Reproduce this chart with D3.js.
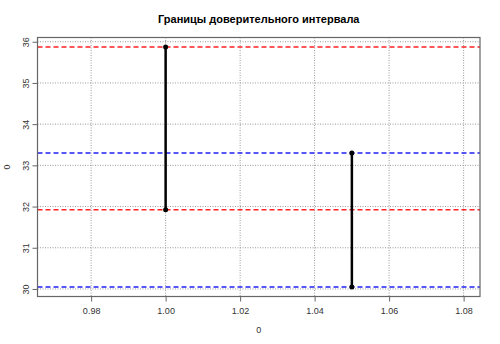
<!DOCTYPE html>
<html lang="ru">
<head>
  <meta charset="UTF-8">
  <title>Границы доверительного интервала</title>
  <style>
    body { margin: 0; background: #fff; }
    svg { font-family: "Liberation Sans", Arial, sans-serif; }
  </style>
</head>
<body>
  <div id="chart"></div>
  <script src="https://d3js.org/d3.v7.min.js"></script>
  <script>
    // data
    var groups = [1.00, 1.05]
    var lower = [31.92, 30.05]
    var upper = [35.87, 33.30]
    var lineColors = ['#ff2020', '#2020ee']
    var xTicks = [0.98, 1.00, 1.02, 1.04, 1.06, 1.08]
    var yTicks = [30, 31, 32, 33, 34, 35, 36]

    var width = 500, height = 344
    var padL = 37.5, padR = 480, padT = 37.5, padB = 296.5

    var svg = d3.select('#chart').append('svg')
      .attr('width', width)
      .attr('height', height)

    // R style 4% padding on xlim = c(0.97, 1.08)
    var xlim = [0.97, 1.08], ylim = [d3.min(lower), d3.max(upper)]
    var xpad = (xlim[1] - xlim[0]) * 0.04, ypad = (ylim[1] - ylim[0]) * 0.04
    var x = d3.scaleLinear().domain([xlim[0] - xpad, xlim[1] + xpad]).range([padL, padR])
    var y = d3.scaleLinear().domain([ylim[0] - ypad, ylim[1] + ypad]).range([padB, padT])

    // grid
    svg.append('g').selectAll('line')
      .data(xTicks)
      .enter().append('line')
      .attr('x1', function (d) { return x(d) })
      .attr('x2', function (d) { return x(d) })
      .attr('y1', padT).attr('y2', padB)
      .attr('stroke', '#999').attr('stroke-dasharray', '1,1.5')
    svg.append('g').selectAll('line')
      .data(yTicks)
      .enter().append('line')
      .attr('y1', function (d) { return y(d) })
      .attr('y2', function (d) { return y(d) })
      .attr('x1', padL).attr('x2', padR)
      .attr('stroke', '#999').attr('stroke-dasharray', '1,1.5')

    // confidence bounds as dashed lines
    groups.forEach(function (g, i) {
      [lower[i], upper[i]].forEach(function (v) {
        svg.append('line')
          .attr('x1', padL).attr('x2', padR)
          .attr('y1', y(v)).attr('y2', y(v))
          .attr('stroke', lineColors[i])
          .attr('stroke-width', 1.5)
          .attr('stroke-dasharray', '5,3')
      })
    })

    // intervals
    svg.append('g').selectAll('line')
      .data(groups)
      .enter().append('line')
      .attr('x1', function (d) { return x(d) })
      .attr('x2', function (d) { return x(d) })
      .attr('y1', function (d, i) { return y(lower[i]) })
      .attr('y2', function (d, i) { return y(upper[i]) })
      .attr('stroke', '#000').attr('stroke-width', 2.5)
    var pts = []
    groups.forEach(function (g, i) { pts.push([g, lower[i]], [g, upper[i]]) })
    svg.append('g').selectAll('circle')
      .data(pts)
      .enter().append('circle')
      .attr('cx', function (d) { return x(d[0]) })
      .attr('cy', function (d) { return y(d[1]) })
      .attr('r', 2.5)
      .attr('fill', '#000')

    // box
    svg.append('rect')
      .attr('x', padL).attr('y', padT)
      .attr('width', padR - padL).attr('height', padB - padT)
      .attr('fill', 'none').attr('stroke', '#666').attr('stroke-width', 1.2)

    // axes
    var xAxis = d3.axisBottom(x).tickValues(xTicks).tickFormat(d3.format('.2f')).tickSize(5).tickPadding(6)
    var gx = svg.append('g').attr('transform', 'translate(0,' + padB + ')').call(xAxis)
    gx.select('.domain').remove()
    var yAxis = d3.axisLeft(y).tickValues(yTicks).tickFormat(d3.format('d')).tickSize(5).tickPadding(4)
    var gy = svg.append('g').attr('transform', 'translate(' + padL + ',0)').call(yAxis)
    gy.select('.domain').remove()
    svg.selectAll('.tick line').attr('stroke', '#666')
    svg.selectAll('.tick text').attr('fill', '#333').style('font-size', '9px')
      .style('font-family', '"Liberation Sans", Arial, sans-serif')
    gy.selectAll('.tick text')
      .attr('text-anchor', 'middle')
      .attr('dy', null)
      .attr('x', 0)
      .attr('transform', 'translate(-8.5,0) rotate(-90)')

    // labels
    svg.append('text')
      .attr('x', (padL + padR) / 2).attr('y', 23)
      .attr('text-anchor', 'middle')
      .style('font-size', '11px').style('font-weight', 'bold')
      .text('Границы доверительного интервала')
    svg.append('text')
      .attr('x', (padL + padR) / 2).attr('y', 333)
      .attr('text-anchor', 'middle')
      .style('font-size', '9px').attr('fill', '#333')
      .text('0')
    svg.append('text')
      .attr('transform', 'translate(10,' + (padT + padB) / 2 + ') rotate(-90)')
      .attr('text-anchor', 'middle')
      .style('font-size', '9px').attr('fill', '#333')
      .text('0')
  </script>
</body>
</html>
